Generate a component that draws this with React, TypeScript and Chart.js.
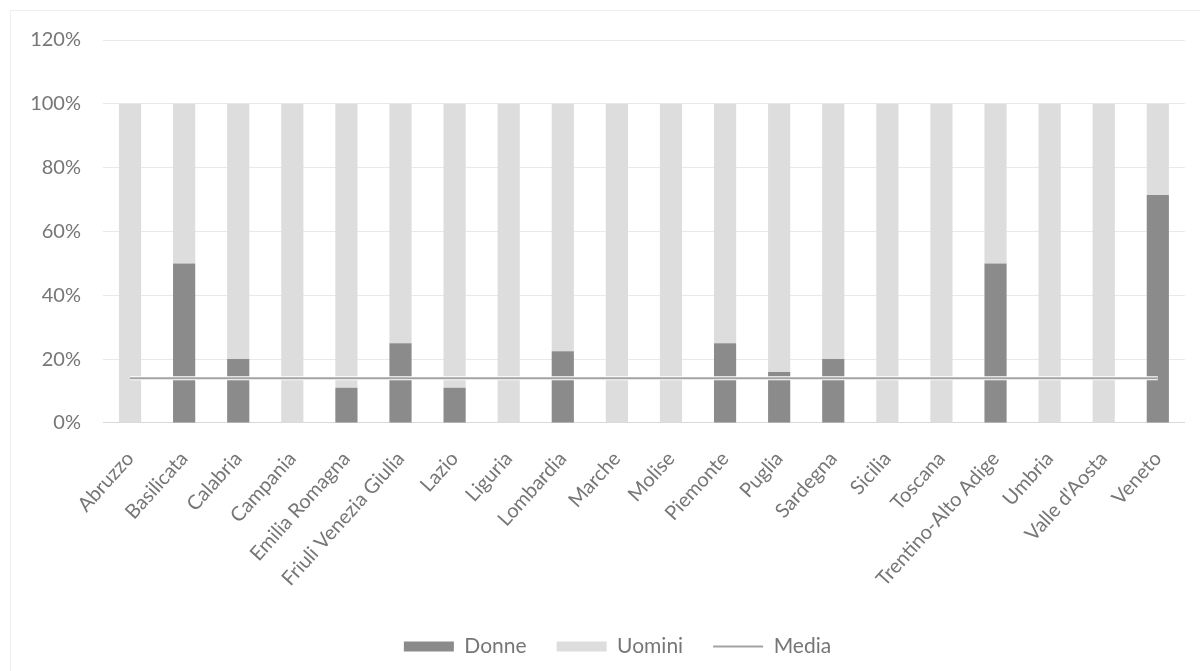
import React, { useEffect, useRef } from "react";
import { Chart, registerables } from "chart.js";

Chart.register(...registerables);

const regioni = [
  "Abruzzo", "Basilicata", "Calabria", "Campania", "Emilia Romagna",
  "Friuli Venezia Giulia", "Lazio", "Liguria", "Lombardia", "Marche",
  "Molise", "Piemonte", "Puglia", "Sardegna", "Sicilia", "Toscana",
  "Trentino-Alto Adige", "Umbria", "Valle d'Aosta", "Veneto",
];

const donne = [0, 50, 20, 0, 11, 25, 11, 0, 22.5, 0, 0, 25, 16, 20, 0, 0, 50, 0, 0, 71.4];
const uomini = [100, 50, 80, 100, 89, 75, 89, 100, 77.5, 100, 100, 75, 84, 80, 100, 100, 50, 100, 100, 28.6];
const media = [14, 14, 14, 14, 14, 14, 14, 14, 14, 14, 14, 14, 14, 14, 14, 14, 14, 14, 14, 14];

const yTicks = [0, 20, 40, 60, 80, 100, 120];

const FONT = "Lato, 'Open Sans', sans-serif";
const TEXT = "#767676";

export default function App() {
  const ref = useRef<HTMLCanvasElement>(null);

  useEffect(() => {
    if (!ref.current) return;
    const defaultGen = Chart.defaults.plugins.legend.labels.generateLabels;
    const shiftLegend = {
      id: "shiftLegend",
      afterLayout(chart: any) {
        const lg = chart.legend;
        if (lg) {
          lg.left += 14;
          lg.right += 14;
        }
      },
    };
    const chart = new Chart(ref.current, {
      type: "bar",
      data: {
        labels: regioni,
        datasets: [
          {
            label: "Donne",
            data: donne,
            backgroundColor: "#8b8b8b",
            stack: "s",
            order: 2,
            barPercentage: 0.41,
            categoryPercentage: 1,
            pointStyle: "rect",
          } as any,
          {
            label: "Uomini",
            data: uomini,
            backgroundColor: "#dddddd",
            stack: "s",
            order: 2,
            barPercentage: 0.41,
            categoryPercentage: 1,
            pointStyle: "rect",
          } as any,
          {
            type: "line",
            label: "halo",
            data: media,
            borderColor: "#ffffff",
            borderWidth: 4,
            pointRadius: 0,
            stack: "halo",
            order: 1,
          } as any,
          {
            type: "line",
            label: "Media",
            data: media,
            borderColor: "#a3a3a3",
            backgroundColor: "#a3a3a3",
            borderWidth: 2,
            pointRadius: 0,
            pointStyle: "line",
            stack: "media",
            order: 0,
          } as any,
        ],
      },
      plugins: [shiftLegend],
      options: {
        animation: false,
        responsive: true,
        maintainAspectRatio: false,
        layout: { padding: { left: 10, top: 29, right: 14, bottom: 4 } },
        plugins: {
          tooltip: { enabled: false },
          legend: {
            position: "bottom",
            labels: {
              usePointStyle: true,
              pointStyleWidth: 50,
              boxHeight: 10,
              padding: 30,
              color: TEXT,
              font: { family: FONT, size: 21 },
              generateLabels: (c: any) => {
                const items = defaultGen(c)
                  .filter((it: any) => it.text !== "halo")
                  .sort((a: any, b: any) => a.datasetIndex - b.datasetIndex);
                items.forEach((it: any) => {
                  if (it.text === "Media") {
                    it.pointStyle = "line";
                    it.strokeStyle = "#a3a3a3";
                    it.lineWidth = 2;
                  } else {
                    it.pointStyle = "rect";
                    it.lineWidth = 0;
                  }
                });
                return items;
              },
            },
          },
        },
        scales: {
          x: {
            stacked: true,
            grid: { display: false, drawTicks: false },
            border: { display: true, color: "#d9d9d9", width: 1 },
            ticks: {
              color: TEXT,
              font: { family: FONT, size: 20 },
              minRotation: 48,
              maxRotation: 48,
              autoSkip: false,
              padding: 24,
            },
            afterFit: (s: any) => {
              s.height = s.height - 9;
            },
          },
          y: {
            stacked: true,
            min: 0,
            max: 120,
            afterBuildTicks: (s: any) => {
              s.ticks = yTicks.map((v) => ({ value: v }));
            },
            afterFit: (s: any) => {
              s.width = 82;
              s.paddingTop = 0;
              s.paddingBottom = 0;
            },
            grid: { color: "#e9e9e9", drawTicks: false },
            border: { display: false },
            ticks: {
              color: TEXT,
              font: { family: FONT, size: 20 },
              padding: 22,
              callback: (v: any) => v + "%",
            },
          },
        },
      },
    } as any);
    return () => chart.destroy();
  }, []);

  return (
    <div
      style={{
        position: "absolute",
        left: 10,
        top: 10,
        width: 1190,
        height: 661,
        borderLeft: "1px solid #efefef",
        borderTop: "1px solid #efefef",
        boxSizing: "border-box",
        background: "#fff",
      }}
    >
      <div style={{ position: "absolute", left: 0, top: 0, width: 1189, height: 660 }}>
        <canvas ref={ref} />
      </div>
    </div>
  );
}
